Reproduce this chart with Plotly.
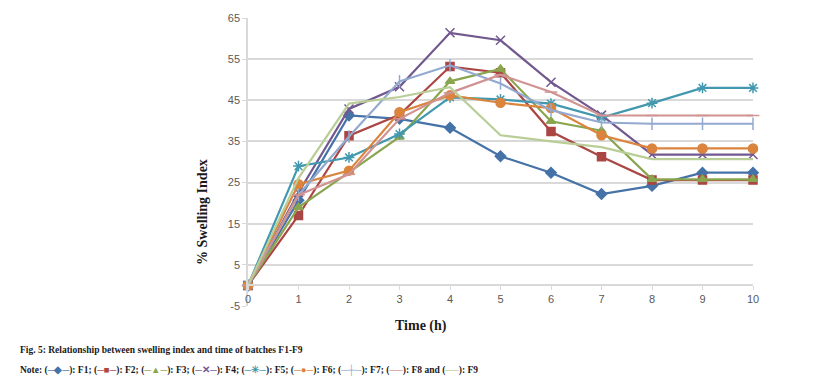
import plotly.graph_objects as go

time_h = [0, 1, 2, 3, 4, 5, 6, 7, 8, 9, 10]
F1 = [0, 20.7, 41.3, 40.5, 38.3, 31.4, 27.4, 22.2, 24.2, 27.4, 27.4]
F2 = [0, 17.0, 36.4, 41.5, 53.2, 51.7, 37.4, 31.3, 25.6, 25.6, 25.6]
F3 = [0, 19.0, 27.5, 36.1, 49.6, 52.6, 39.9, 37.6, 25.8, 25.8, 25.8]
F4 = [0, 22.6, 42.9, 48.3, 61.4, 59.6, 49.4, 41.4, 31.8, 31.8, 31.8]
F5 = [0, 29.0, 31.1, 36.8, 45.7, 45.2, 44.2, 40.8, 44.3, 48.0, 48.0]
F6 = [0, 24.6, 27.9, 42.1, 46.2, 44.4, 43.1, 36.5, 33.3, 33.3, 33.3]
F7 = [0, 22.0, 36.2, 49.6, 53.5, 49.1, 42.6, 39.6, 39.3, 39.3, 39.3]
F8 = [0, 22.0, 27.0, 40.5, 46.8, 51.2, 47.0, 41.3, 41.3, 41.3, 41.3]
F9 = [0, 26.1, 44.2, 45.8, 48.2, 36.5, 35.0, 33.6, 30.7, 30.7, 30.7]

series_names = ["F1", "F2", "F3", "F4", "F5", "F6", "F7", "F8", "F9"]
series_values = [F1, F2, F3, F4, F5, F6, F7, F8, F9]
colors = ["#4572A7", "#AA4643", "#89A54E", "#71588F", "#4198AF",
          "#DB843D", "#93A9CF", "#D19392", "#B9CD96"]
symbols = ["diamond", "square", "triangle-up", "x-thin-open", "asterisk-open",
           "circle", "line-ns-open", "line-ew-open", "circle"]
msizes = [8, 8, 8, 9, 9, 9, 9, 9, 0]

y_ticks = [-5, 5, 15, 25, 35, 45, 55, 65]
y_tick_labels = ["-5", "5", "15", "25", "35", "45", "55", "65"]

fig = go.Figure()
for name, vals, c, s, ms in zip(series_names, series_values, colors, symbols, msizes):
    fig.add_trace(go.Scatter(
        x=time_h, y=vals, name=name, mode="lines+markers" if ms else "lines",
        line=dict(color=c, width=2.2),
        marker=dict(symbol=s, size=ms, color=c, line=dict(color=c, width=1.5)),
        cliponaxis=False,
    ))

fig.update_layout(
    width=817, height=382,
    margin=dict(l=240, r=72, t=4, b=84),
    paper_bgcolor="white", plot_bgcolor="white",
    showlegend=False,
    font=dict(family="Liberation Sans", size=11, color="#595959"),
    xaxis=dict(range=[0, 10], tickvals=time_h, ticktext=[str(t) for t in time_h],
               showgrid=False, zeroline=False, showline=True, linecolor="#D9D9D9",
               linewidth=1.5, ticks="outside", ticklen=4, tickcolor="#D9D9D9",
               anchor="free", position=5 / 70, ticklabeloverflow="allow",
               tickfont=dict(family="Liberation Sans", size=11, color="#595959")),
    yaxis=dict(range=[-5, 65], tickvals=y_ticks, ticktext=y_tick_labels,
               showgrid=True, gridcolor="#D9D9D9", ticklabeloverflow="allow",
               gridwidth=1.5, zeroline=False, showline=True, linecolor="#D9D9D9",
               linewidth=1.5, ticks="outside", ticklen=4, tickcolor="#D9D9D9",
               tickfont=dict(family="Liberation Sans", size=11, color="#595959")),
)

serif = "Liberation Serif"
fig.add_annotation(text="<b>% Swelling Index</b>", xref="paper", yref="paper",
                   x=(203 - 248) / 505, y=(306 - 210) / 294, textangle=-90,
                   xanchor="center", yanchor="middle",
                   showarrow=False, font=dict(family=serif, size=14, color="#1a1a1a"))
fig.add_annotation(text="<b>Time (h)</b>", xref="paper", yref="paper",
                   x=(421 - 248) / 505, y=(306 - 326) / 294,
                   xanchor="center", yanchor="middle",
                   showarrow=False, font=dict(family=serif, size=14, color="#1a1a1a"))

fig.add_annotation(text="<b>Fig. 5: Relationship between swelling index and time of batches F1-F9</b>",
                   xref="paper", yref="paper", x=(18 - 248) / 505, y=(306 - 351) / 294,
                   xanchor="left", yanchor="middle", showarrow=False,
                   font=dict(family=serif, size=9.5, color="#1a1a1a"))

glyphs = ["─◆─", "─■─", "─▲─", "─✕─", "─✳─", "─●─", "─┼─", "──", "──"]
parts = []
for i, (name, c, g) in enumerate(zip(series_names, colors, glyphs)):
    sep = "; " if i < 7 else (" and " if i == 7 else "")
    parts.append(f"(<span style='color:{c}'>{g}</span>): {name}{sep}")
note = "<b>Note: " + "".join(parts) + "</b>"
fig.add_annotation(text=note, xref="paper", yref="paper", x=(18 - 248) / 505,
                   y=(306 - 371) / 294, xanchor="left", yanchor="middle", showarrow=False,
                   font=dict(family=serif, size=9.5, color="#1a1a1a"))

fig.write_html("out.html")
